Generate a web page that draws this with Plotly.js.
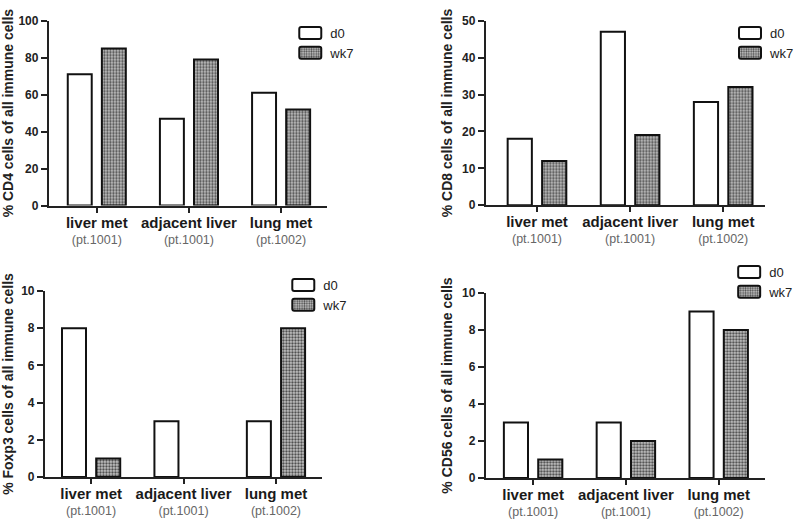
<!DOCTYPE html>
<html><head><meta charset="utf-8">
<script src="https://cdn.plot.ly/plotly-3.0.1.min.js"></script>
<style>html,body{margin:0;padding:0;background:#fff}#chart{width:800px;height:521px}</style>
</head><body><div id="chart"></div>
<script>
// ---- data ----
const categories = ['liver met', 'adjacent liver', 'lung met'];
const patients = ['(pt.1001)', '(pt.1001)', '(pt.1002)'];
const seriesNames = ['d0', 'wk7'];
const cd4_d0 = [71, 47, 61];
const cd4_wk7 = [85, 79, 52];
const cd8_d0 = [18, 47, 28];
const cd8_wk7 = [12, 19, 32];
const foxp3_d0 = [8, 3, 3];
const foxp3_wk7 = [1, 0, 8];
const cd56_d0 = [3, 3, 9];
const cd56_wk7 = [1, 2, 8];
const yTitles = ['% CD4 cells of all immune cells', '% CD8 cells of all immune cells',
                 '% Foxp3 cells of all immune cells', '% CD56 cells of all immune cells'];
const yMax = [100, 50, 10, 10];
const yStep = [20, 10, 2, 2];

// ---- layout helpers ----
const W = 800, H = 521;
const fx = p => p / W;
const fy = p => 1 - p / H;

const panels = [
  {d0: cd4_d0, wk7: cd4_wk7, xd: [49, 328], yd: [20.7, 205.5], xr: [-0.52, 2.5], leg: [291, 18]},
  {d0: cd8_d0, wk7: cd8_wk7, xd: [487, 767], yd: [20.7, 205.2], xr: [-0.55, 2.45], leg: [732, 18]},
  {d0: foxp3_d0, wk7: foxp3_wk7, xd: [45, 323], yd: [291, 477], xr: [-0.5, 2.5], leg: [284, 270]},
  {d0: cd56_d0, wk7: cd56_wk7, xd: [487, 767], yd: [293, 478], xr: [-0.51, 2.5], leg: [731, 257]}
];

const tickLabels = categories.map((c, i) =>
  '<span style="font-size:15px;font-weight:bold;color:#1a1a1a">' + c + '</span><br>' +
  '<span style="color:#666">' + patients[i] + '</span>');

const lineW = vals => vals.map(v => (v === 0 ? 0 : 2));

const traces = [];
const layout = {
  width: W, height: H,
  margin: {l: 0, r: 0, t: 0, b: 0},
  paper_bgcolor: '#fff', plot_bgcolor: 'rgba(0,0,0,0)',
  barmode: 'overlay',
  font: {family: 'Arial, Liberation Sans, sans-serif', color: '#222'},
  showlegend: true
};

panels.forEach((p, k) => {
  const n = k === 0 ? '' : String(k + 1);
  const legName = 'legend' + n;
  traces.push({
    type: 'bar', name: seriesNames[0], x: categories, y: p.d0,
    xaxis: 'x' + n, yaxis: 'y' + n, legend: legName,
    width: 0.26, offset: -0.315,
    marker: {color: '#ffffff', line: {color: '#111', width: lineW(p.d0)}},
    hoverinfo: 'x+y'
  });
  traces.push({
    type: 'bar', name: seriesNames[1], x: categories, y: p.wk7,
    xaxis: 'x' + n, yaxis: 'y' + n, legend: legName,
    width: 0.26, offset: 0.055,
    marker: {color: '#c4c4c4', line: {color: '#111', width: lineW(p.wk7)},
             pattern: {shape: '.', fgcolor: '#4a4a4a', bgcolor: '#c4c4c4', size: 3, solidity: 0.45}},
    hoverinfo: 'x+y'
  });
  layout['xaxis' + n] = {
    domain: [fx(p.xd[0]), fx(p.xd[1])], anchor: 'y' + n,
    type: 'category', categoryorder: 'array', categoryarray: categories,
    range: p.xr, tickmode: 'array', tickvals: categories, ticktext: tickLabels,
    showline: true, linecolor: '#222', linewidth: 2, showgrid: false, zeroline: false,
    ticks: 'outside', ticklen: 5, tickwidth: 2, tickcolor: '#222',
    tickfont: {size: 12.5, color: '#666'}, fixedrange: true
  };
  layout['yaxis' + n] = {
    domain: [fy(p.yd[1]), fy(p.yd[0])], anchor: 'x' + n,
    range: [0, yMax[k]], dtick: yStep[k], tick0: 0,
    showline: true, linecolor: '#222', linewidth: 2, showgrid: false, zeroline: false,
    ticks: 'outside', ticklen: 6, tickwidth: 2, tickcolor: '#222',
    tickfont: {size: 12, weight: 'bold', color: '#222'},
    title: {text: yTitles[k], font: {size: 14, weight: 'bold', color: '#222'}, standoff: 6},
    fixedrange: true
  };
  layout[legName] = {
    x: fx(p.leg[0]), y: fy(p.leg[1]), xanchor: 'left', yanchor: 'top',
    xref: 'paper', yref: 'paper',
    font: {size: 13, color: '#222'}, bgcolor: 'rgba(0,0,0,0)', borderwidth: 0,
    traceorder: 'normal'
  };
});

const widenSwatches = () => {
  // widen legend swatches into rounded boxes like the reference
  document.querySelectorAll('#chart g.legendpoints path').forEach(el => {
    el.setAttribute('d', 'M-9,-6H9A2,2 0 0 1 11,-4V4A2,2 0 0 1 9,6H-9A2,2 0 0 1 -11,4V-4A2,2 0 0 1 -9,-6Z');
    el.style.strokeWidth = '2px';
  });
};

Plotly.newPlot('chart', traces, layout, {displayModeBar: false, staticPlot: true}).then(() => {
  widenSwatches();
  setTimeout(widenSwatches, 50);
});
</script>
</body></html>
